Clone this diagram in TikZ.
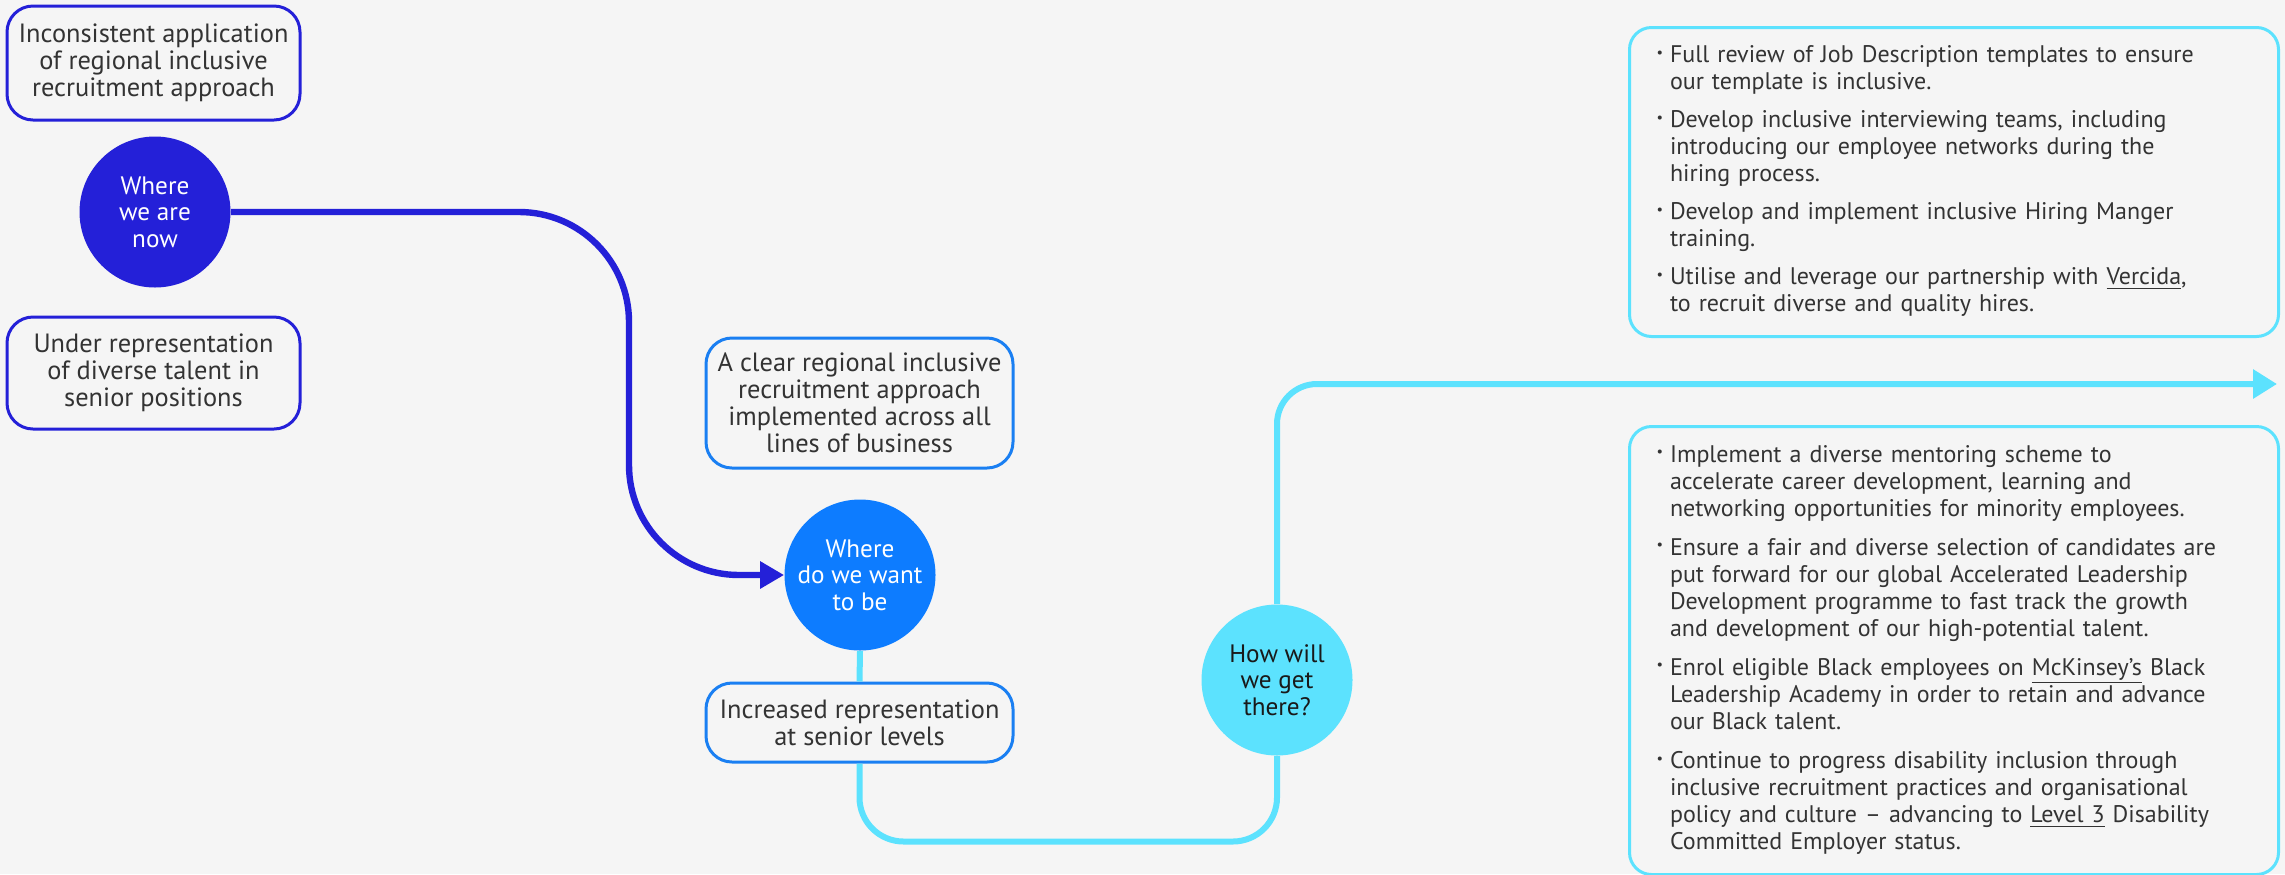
\documentclass[tikz,border=0pt]{standalone}
\usepackage{fontspec}
\usepackage{graphicx}
\setmainfont{PT Sans}
\usetikzlibrary{arrows.meta}

\definecolor{bg}{HTML}{F5F5F5}
\definecolor{navy}{HTML}{2420D8}
\definecolor{azure}{HTML}{0D7CFF}
\definecolor{azureline}{HTML}{1A7FF2}
\definecolor{aqua}{HTML}{5CE2FE}
\definecolor{ink}{HTML}{333333}

% small bullet used in the action lists
\newcommand\blt{\raisebox{0.22em}{\scalebox{0.6}{\textbullet}}}

\begin{document}
\begin{tikzpicture}[x=0.5pt,y=-0.5pt,
  every node/.style={font=\fontsize{12}{13.5}\selectfont, text=ink},
  stagebox/.style={draw, rounded corners=13pt, line width=1.5pt, fill=bg,
    align=center, inner sep=0pt, font=\fontsize{13.2}{13.5}\selectfont},
  listbox/.style={draw=aqua, rounded corners=11pt, line width=1.5pt, fill=bg,
    align=left, inner ysep=0pt, inner xsep=13.5pt, text width=297.5pt,
    anchor=north west},
  disc/.style={circle, minimum size=75.5pt, inner sep=0pt, align=center,
    text=white, font=\fontsize{12.6}{13.3}\selectfont},
  navyline/.style={draw=navy, line width=3.2pt},
  aqualine/.style={draw=aqua, line width=3pt},
]
\fill[bg] (0,0) rectangle (2285,874);
\useasboundingbox (0,0) rectangle (2285,874);

% ---- current state ----
\node[stagebox, draw=navy, minimum width=146.5pt, minimum height=57pt]
  (now1) at (153.5,63)
  {Inconsistent application\\of regional inclusive\\recruitment approach};
\node[disc, fill=navy] (now) at (155,212) {Where\\we are\\now};
\node[stagebox, draw=navy, minimum width=146.5pt, minimum height=56pt]
  (now2) at (153.5,373)
  {Under representation\\of diverse talent in\\senior positions};

% ---- target state ----
\node[stagebox, draw=azureline, minimum width=153.5pt, minimum height=65pt]
  (want1) at (859.5,403)
  {A clear regional inclusive\\recruitment approach\\implemented across all\\lines of business};
\node[disc, fill=azure] (want) at (860,575) {Where\\do we want\\to be};
\node[stagebox, draw=azureline, minimum width=153.5pt, minimum height=39.5pt]
  (want2) at (859.5,722.5)
  {Increased representation\\at senior levels};

% ---- how ----
\node[disc, fill=aqua, text=black!90] (how) at (1277,680) {How will\\we get\\there?};

\node[listbox, minimum height=154.5pt] (plan1) at (1628,26)
  {\begin{tabular}{@{}l@{\hspace{3.5pt}}l@{}}
   \blt & Full review of Job Description templates to ensure\\
        & our template is inclusive.\\[5.5pt]
   \blt & Develop inclusive interviewing teams, including\\
        & introducing our employee networks during the\\
        & hiring process.\\[5.5pt]
   \blt & Develop and implement inclusive Hiring Manger\\
        & training.\\[5.5pt]
   \blt & Utilise and leverage our partnership with \underline{Vercida},\\
        & to recruit diverse and quality hires.
   \end{tabular}};

\node[listbox, minimum height=224pt] (plan2) at (1628,425)
  {\begin{tabular}{@{}l@{\hspace{3.5pt}}l@{}}
   \blt & Implement a diverse mentoring scheme to\\
        & accelerate career development, learning and\\
        & networking opportunities for minority employees.\\[6pt]
   \blt & Ensure a fair and diverse selection of candidates are\\
        & put forward for our global Accelerated Leadership\\
        & Development programme to fast track the growth\\
        & and development of our high-potential talent.\\[6pt]
   \blt & Enrol eligible Black employees on \underline{McKinsey’s} Black\\
        & Leadership Academy in order to retain and advance\\
        & our Black talent.\\[6pt]
   \blt & Continue to progress disability inclusion through\\
        & inclusive recruitment practices and organisational\\
        & policy and culture – advancing to \underline{Level 3} Disability\\
        & Committed Employer status.
   \end{tabular}};

\coordinate (goal) at (2277,384);

% ---- connectors ----
\draw[navyline, -{Triangle[length=12pt,width=13pt]}]
  (now.east) [rounded corners=55pt] -- (629,212)
  -- (629,575) [rounded corners=30pt] -- (want.west);

\draw[aqualine] (want.south) -- (want2.north);
\draw[aqualine, rounded corners=22pt] (want2.south) -- ++(0,78) -| (how.south);
\draw[aqualine, rounded corners=20pt, -{Triangle[length=12pt,width=14pt]}]
  (how.north) |- (goal);
\end{tikzpicture}
\end{document}
